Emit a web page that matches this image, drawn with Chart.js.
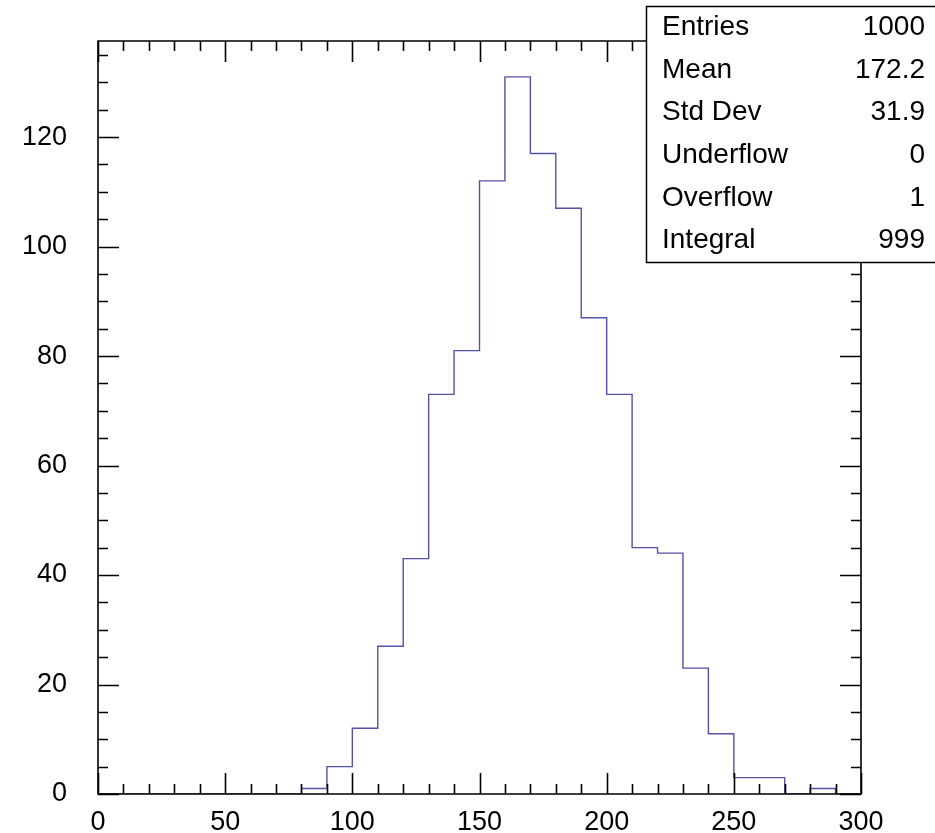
<!DOCTYPE html>
<html>
<head>
<meta charset="utf-8">
<script src="https://cdn.jsdelivr.net/npm/chart.js@4.4.0/dist/chart.umd.min.js"></script>
<style>
  html, body { margin: 0; padding: 0; background: #ffffff; }
  #wrap { width: 935px; height: 833px; position: relative; }
</style>
</head>
<body>
<div id="wrap"><canvas id="c" width="935" height="833"></canvas></div>
<script>
// ---- data ----
const binLowEdges = [0,10,20,30,40,50,60,70,80,90,100,110,120,130,140,150,160,170,180,190,200,210,220,230,240,250,260,270,280,290];
const binUpperEdge = 300;
const binCounts   = [0,0,0,0,0,0,0,0,1,5,12,27,43,73,81,112,131,117,107,87,73,45,44,23,11,3,3,0,1,0];
const xTickLabels = [0,50,100,150,200,250,300];
const yTickLabels = [0,20,40,60,80,100,120];
const statNames  = ["Entries","Mean","Std Dev","Underflow","Overflow","Integral"];
const statValues = ["1000","172.2","31.9","0","1","999"];

const FONT = "'Liberation Sans', Arial, Helvetica, sans-serif";
const LINE_COLOR = "#5252a6";

// step outline: each bin's count held from its low edge to the next edge
const points = binLowEdges.map((x, i) => ({ x: x, y: binCounts[i] }));
points.push({ x: binUpperEdge, y: binCounts[binCounts.length - 1] });

const yMax = Math.max(...binCounts) * 1.05;

const frameAndTicks = {
  id: 'frameAndTicks',
  afterDraw(chart) {
    const ctx = chart.ctx;
    const xs = chart.scales.x, ys = chart.scales.y;
    const a = chart.chartArea;
    ctx.save();
    ctx.strokeStyle = '#000';
    ctx.lineWidth = 1.6;
    ctx.beginPath();
    ctx.rect(a.left, a.top, a.right - a.left, a.bottom - a.top);
    ctx.stroke();
    // x ticks (inward, bottom and top)
    for (let v = xs.min; v <= xs.max + 1e-9; v += 10) {
      const px = Math.round(xs.getPixelForValue(v)) + 0.5;
      const major = (v % 50 === 0);
      const len = major ? 21 : 10;
      ctx.beginPath();
      ctx.moveTo(px, a.bottom); ctx.lineTo(px, a.bottom - len);
      ctx.moveTo(px, a.top); ctx.lineTo(px, a.top + len);
      ctx.stroke();
    }
    // y ticks (inward, left and right)
    for (let v = 0; v <= ys.max + 1e-9; v += 5) {
      const py = Math.round(ys.getPixelForValue(v)) + 0.5;
      const major = (v % 20 === 0);
      const len = major ? 21 : 10;
      ctx.beginPath();
      ctx.moveTo(a.left, py); ctx.lineTo(a.left + len, py);
      ctx.moveTo(a.right, py); ctx.lineTo(a.right - len, py);
      ctx.stroke();
    }
    // stats box
    const bx = 646, by = 6, bw = 935 - 646 + 10, bh = 256;
    ctx.fillStyle = '#fff';
    ctx.fillRect(bx, by, bw, bh);
    ctx.lineWidth = 1.5;
    ctx.strokeRect(bx + 0.5, by + 0.5, bw, bh);
    ctx.fillStyle = '#000';
    ctx.font = '28px ' + FONT;
    ctx.textBaseline = 'middle';
    const rowH = bh / statNames.length;
    statNames.forEach((n, i) => {
      const cy = by + rowH * (i + 0.5);
      ctx.textAlign = 'left';
      ctx.fillText(n, 662, cy);
      ctx.textAlign = 'right';
      ctx.fillText(statValues[i], 925, cy);
    });
    ctx.restore();
  }
};

new Chart(document.getElementById('c'), {
  type: 'line',
  data: {
    datasets: [{
      data: points,
      stepped: 'before',
      borderColor: LINE_COLOR,
      borderWidth: 1.4,
      pointRadius: 0,
      fill: false,
      tension: 0
    }]
  },
  options: {
    responsive: false,
    animation: false,
    devicePixelRatio: 1,
    layout: { padding: { top: 41, right: 74, left: 0, bottom: 0 } },
    plugins: { legend: { display: false }, tooltip: { enabled: false } },
    scales: {
      x: {
        type: 'linear',
        min: 0, max: 300,
        grid: { display: false, drawTicks: false },
        border: { display: false },
        afterBuildTicks(scale) { scale.ticks = xTickLabels.map(v => ({ value: v })); },
        afterFit(scale) { scale.height = 39; scale.paddingLeft = 0; scale.paddingRight = 0; },
        ticks: {
          color: '#000',
          font: { family: FONT, size: 27 },
          padding: 12,
          maxRotation: 0,
          autoSkip: false,
          callback: v => String(v)
        }
      },
      y: {
        type: 'linear',
        min: 0, max: yMax,
        grid: { display: false, drawTicks: false },
        border: { display: false },
        afterBuildTicks(scale) { scale.ticks = yTickLabels.map(v => ({ value: v })); },
        afterFit(scale) { scale.width = 98; scale.paddingTop = 0; scale.paddingBottom = 0; },
        ticks: {
          color: '#000',
          font: { family: FONT, size: 27 },
          padding: 31,
          autoSkip: false,
          callback: v => String(v)
        }
      }
    }
  },
  plugins: [frameAndTicks]
});
</script>
</body>
</html>
